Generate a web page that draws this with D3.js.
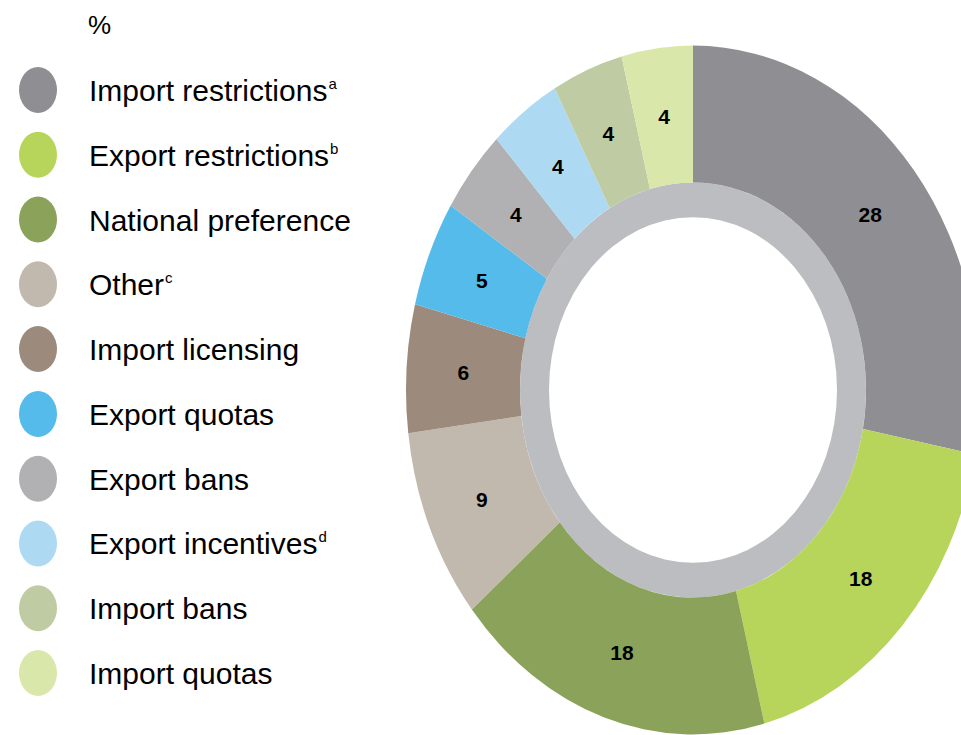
<!DOCTYPE html>
<html>
<head>
<meta charset="utf-8">
<script src="https://cdn.jsdelivr.net/npm/d3@7"></script>
<style>
    body { margin: 0; background: #fff; }
    text { font-family: "Liberation Sans", Arial, sans-serif; fill: #000; }
</style>
</head>
<body>
<svg id="chart" width="961" height="735"></svg>
<script>

//  categories, in the order they go round the ring (clockwise from 12 o'clock)
const categories = [
    "Import restrictions", "Export restrictions", "National preference", "Other",
    "Import licensing", "Export quotas", "Export bans", "Export incentives",
    "Import bans", "Import quotas"
];
const notes = ["a", "b", "", "c", "", "", "", "d", "", ""];     //  footnote letters
const shares = [28, 18, 18, 9, 6, 5, 4, 4, 4, 4];                //  %
const colors = [
    "#8f8e93", "#b7d55a", "#8aa259", "#c1b8ae", "#9c8b7c",
    "#55bbea", "#b1b1b3", "#aed9f3", "#bfcca3", "#d9e8aa"
];
const unitLabel = "%";

const donutView = {

    svg: null,
    cx: 693,
    cy: 390,
    squash: 1.2,        //  the ring is drawn taller than wide
    outerR: 287,
    innerR: 173,
    holeR: 144,

    initialize: function (iSVG) {
        this.svg = iSVG;
    },

    drawRing: function () {
        const rows = categories.map((c, i) => ({name: c, value: shares[i], color: colors[i]}));

        const pie = d3.pie()
            .sort(null)
            .value(d => d.value);
        const arc = d3.arc()
            .innerRadius(this.innerR)
            .outerRadius(this.outerR);
        const arcs = pie(rows);

        const g = this.svg.append("g")
            .attr("transform", `translate(${this.cx},${this.cy}) scale(1,${this.squash})`);

        //  the plain grey band round the hole
        g.append("path")
            .attr("d", d3.arc()({innerRadius: this.holeR, outerRadius: this.innerR,
                startAngle: 0, endAngle: 2 * Math.PI}))
            .attr("fill", "#bcbdc0");

        g.selectAll("path.slice")
            .data(arcs)
            .join("path")
            .attr("class", "slice")
            .attr("d", arc)
            .attr("fill", d => d.data.color);

        //  labels live outside the squashed group so the digits are not stretched
        const labelArc = d3.arc()
            .innerRadius((this.innerR + this.outerR) / 2)
            .outerRadius((this.innerR + this.outerR) / 2);

        this.svg.selectAll("text.val")
            .data(arcs)
            .join("text")
            .attr("class", "val")
            .attr("x", d => this.cx + labelArc.centroid(d)[0])
            .attr("y", d => this.cy + labelArc.centroid(d)[1] * this.squash)
            .attr("text-anchor", "middle")
            .attr("dy", "0.36em")
            .attr("font-size", 21)
            .attr("font-weight", "bold")
            .text(d => d.data.value);
    },

    drawLegend: function () {
        const y = d3.scaleLinear()
            .domain([0, categories.length - 1])
            .range([90, 673]);

        this.svg.append("text")
            .attr("x", 88)
            .attr("y", 34)
            .attr("font-size", 26)
            .text(unitLabel);

        const item = this.svg.selectAll("g.item")
            .data(categories)
            .join("g")
            .attr("class", "item")
            .attr("transform", (d, i) => `translate(0,${y(i)})`);

        item.append("ellipse")
            .attr("cx", 38)
            .attr("cy", 0)
            .attr("rx", 19)
            .attr("ry", 23)
            .attr("fill", (d, i) => colors[i]);

        const label = item.append("text")
            .attr("x", 89)
            .attr("y", 11)
            .attr("font-size", 30);

        label.append("tspan").text(d => d);
        label.append("tspan")
            .attr("font-size", 15)
            .attr("dy", -12)
            .attr("dx", 1)
            .text((d, i) => notes[i]);
    }
}

donutView.initialize(d3.select("#chart"));
donutView.drawRing();
donutView.drawLegend();

</script>
</body>
</html>
